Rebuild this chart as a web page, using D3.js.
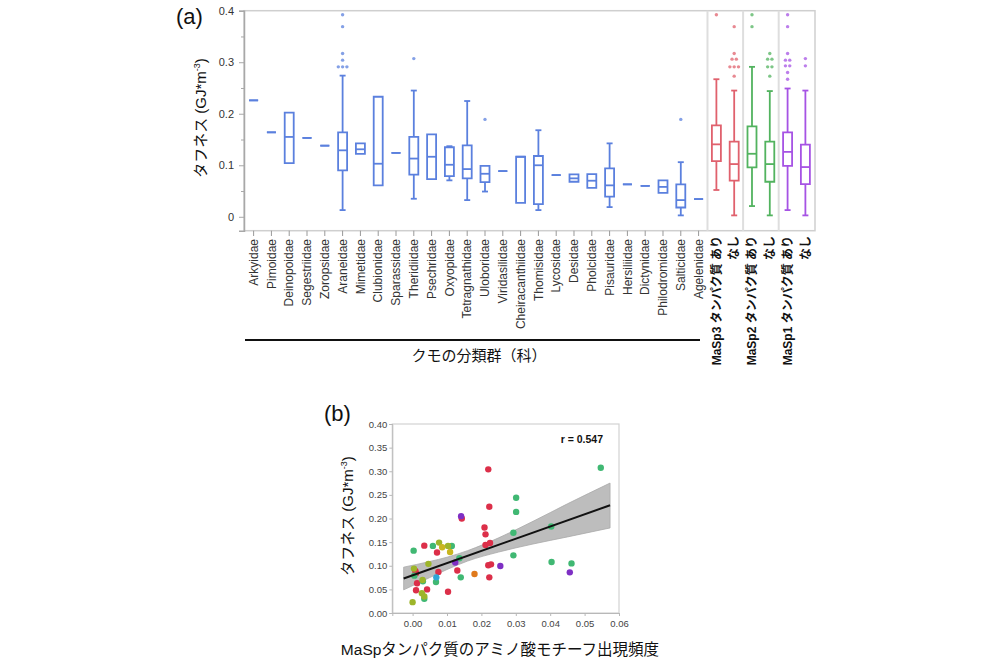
<!DOCTYPE html>
<html><head><meta charset="utf-8">
<script src="https://cdn.jsdelivr.net/npm/d3@7"></script>
<style>
body{margin:0;background:#fff;}
svg text{font-family:"Liberation Sans",Arial,"Noto Sans CJK JP",sans-serif;}
</style></head><body>
<svg id="c" width="1000" height="667"></svg>
<script>
// ---------- Panel (a): box plots ----------
const categories = ["Arkyidae","Pimoidae","Deinopoidae","Segestriidae","Zoropsidae","Araneidae","Mimetidae","Clubionidae","Sparassidae","Theridiidae","Psechridae","Oxyopidae","Tetragnathidae","Uloboridae","Viridasilidae","Cheiracanthiidae","Thomisidae","Lycosidae","Desidae","Pholcidae","Pisauridae","Hersiliidae","Dictynidae","Philodromidae","Salticidae","Agelenidae","MaSp3あり","MaSp3なし","MaSp2あり","MaSp2なし","MaSp1あり","MaSp1なし"];
const tickLabels = ["Arkyidae","Pimoidae","Deinopoidae","Segestriidae","Zoropsidae","Araneidae","Mimetidae","Clubionidae","Sparassidae","Theridiidae","Psechridae","Oxyopidae","Tetragnathidae","Uloboridae","Viridasilidae","Cheiracanthiidae","Thomisidae","Lycosidae","Desidae","Pholcidae","Pisauridae","Hersiliidae","Dictynidae","Philodromidae","Salticidae","Agelenidae","MaSp3 タンパク質 あり","なし","MaSp2 タンパク質 あり","なし","MaSp1 タンパク質 あり","なし"];
const categoryGroup = ["fam","fam","fam","fam","fam","fam","fam","fam","fam","fam","fam","fam","fam","fam","fam","fam","fam","fam","fam","fam","fam","fam","fam","fam","fam","fam","MaSp3","MaSp3","MaSp2","MaSp2","MaSp1","MaSp1"];
const whiskerLow  = [0.226,0.164,0.104,0.153,0.138,0.013,0.122,0.061,0.124,0.035,0.073,0.0707,0.0324,0.049,0.0887,0.027,0.013,0.081,0.068,0.0563,0.0188,0.063,0.060,0.0466,0.0027,0.0344,0.052,0.0027,0.0208,0.0027,0.013,0.0027];
const quartile1   = [0.226,0.164,0.104,0.153,0.138,0.090,0.122,0.061,0.124,0.082,0.073,0.079,0.0746,0.0674,0.0887,0.027,0.0247,0.081,0.068,0.0563,0.039,0.063,0.060,0.0466,0.018,0.0344,0.108,0.070,0.0959,0.068,0.099,0.0635];
const medians     = [0.226,0.164,0.155,0.153,0.138,0.129,0.131,0.103,0.124,0.113,0.1165,0.101,0.0926,0.0835,0.0887,0.1165,0.100,0.081,0.0746,0.070,0.061,0.063,0.060,0.058,0.0324,0.0344,0.1406,0.1023,0.1223,0.1023,0.126,0.0965];
const quartile3   = [0.226,0.164,0.202,0.153,0.138,0.164,0.1425,0.233,0.124,0.155,0.160,0.135,0.1386,0.099,0.0887,0.1165,0.118,0.081,0.0823,0.083,0.094,0.063,0.060,0.0707,0.063,0.0344,0.1775,0.1457,0.1755,0.1457,0.164,0.140];
const whiskerHigh = [0.226,0.164,0.202,0.153,0.138,0.274,0.1425,0.233,0.124,0.245,0.160,0.137,0.2247,0.099,0.0887,0.1165,0.168,0.081,0.0823,0.083,0.1425,0.063,0.060,0.0707,0.106,0.0344,0.267,0.245,0.291,0.244,0.249,0.245];
const outliers = [[],[],[],[],[],[0.392,0.369,0.317,0.304,0.291,0.291,0.291],[],[],[],[0.307],[],[],[],[0.189],[],[],[],[],[],[],[],[],[],[],[0.189],[],
  [0.392],[0.369,0.317,0.306,0.306,0.291,0.291,0.291,0.273],[0.392,0.369],[0.317,0.306,0.306,0.291,0.291,0.273],[0.392,0.369,0.317,0.304,0.304,0.293,0.293,0.280,0.267],[0.307,0.293]];
const yTicksA = [0,0.1,0.2,0.3,0.4];
const yMinorA = [0.05,0.15,0.25,0.35];
const groupColors = {fam:"#5b80de", MaSp3:"#e0616d", MaSp2:"#52b35f", MaSp1:"#a653e4"};

// ---------- Panel (b): scatter ----------
const redPts = [[0.0008,0.089],[0.0013,0.063],[0.0010,0.048],[0.0034,0.1425],[0.0042,0.050],[0.0071,0.128],[0.0075,0.087],[0.0103,0.045],[0.0130,0.090],[0.0143,0.200],[0.0209,0.181],[0.0212,0.1665],[0.0212,0.144],[0.0225,0.148],[0.0220,0.101],[0.0228,0.103],[0.0223,0.0755],[0.0223,0.225],[0.0220,0.304],[0.0010,0.084]];
const greenPts = [[0.0003,0.132],[0.0005,0.079],[0.0030,0.067],[0.0034,0.030],[0.0059,0.142],[0.0068,0.0656],[0.0114,0.142],[0.0136,0.116],[0.0140,0.0755],[0.0293,0.170],[0.0293,0.122],[0.0301,0.214],[0.0301,0.244],[0.0403,0.183],[0.0404,0.108],[0.0462,0.105],[0.0547,0.3075]];
const olivePts = [[0.0000,0.023],[0.0004,0.094],[0.0029,0.070],[0.0027,0.042],[0.0034,0.035],[0.0046,0.104],[0.0077,0.149],[0.0103,0.142]];
const yellowPts = [[0.0086,0.139],[0.0109,0.129]];
const cyanPts = [[0.0069,0.0755]];
const orangePts = [[0.0180,0.0825]];
const purplePts = [[0.0124,0.107],[0.0141,0.205],[0.0255,0.0995],[0.0457,0.086]];
const fitX = [-0.0026,0.0574];
const fitY = [0.073,0.228];
const bandX = [-0.0026,0.005,0.010,0.016,0.025,0.035,0.045,0.0574];
const bandUpper = [0.097,0.109,0.118,0.132,0.159,0.194,0.231,0.275];
const bandLower = [0.049,0.075,0.092,0.110,0.129,0.146,0.161,0.180];
const xTicksB = [0,0.01,0.02,0.03,0.04,0.05,0.06];
const yTicksB = [0,0.05,0.10,0.15,0.20,0.25,0.30,0.35,0.40];

const svg = d3.select("#c");
svg.append("rect").attr("width",1000).attr("height",667).attr("fill","#fff");

// ===== Panel (a) =====
const xA = d3.scalePoint().domain(categories).range([244,815]).padding(0.54);
const yA = d3.scaleLinear().domain([-0.027,0.4]).range([230.7,10.7]);
const colorOf = c => groupColors[categoryGroup[categories.indexOf(c)]];

svg.append("rect").attr("x",244).attr("y",10.7).attr("width",571).attr("height",220)
  .attr("fill","none").attr("stroke","#cfcfcf").attr("stroke-width",1.5);

// separators
[[25,26],[27,28],[29,30]].forEach(([a,b])=>{
  const sx = (xA(categories[a])+xA(categories[b]))/2;
  svg.append("line").attr("x1",sx).attr("x2",sx).attr("y1",10.7).attr("y2",230.7)
    .attr("stroke","#dedede").attr("stroke-width",2);
});

// y axis
const gyA = svg.append("g").attr("transform","translate(244,0)")
  .call(d3.axisLeft(yA).tickValues(yTicksA).tickFormat(d=>d===0?"0":d3.format(".1f")(d)).tickSize(5).tickPadding(5));
gyA.select(".domain").attr("stroke","#a8a8a8").attr("stroke-width",1.5);
gyA.selectAll(".tick line").attr("stroke","#a8a8a8");
gyA.selectAll(".tick text").attr("font-size",11).attr("fill","#333");
const gyAm = svg.append("g").attr("transform","translate(244,0)")
  .call(d3.axisLeft(yA).tickValues(yMinorA).tickFormat("").tickSize(3));
gyAm.select(".domain").remove();
gyAm.selectAll(".tick line").attr("stroke","#a8a8a8");

// x ticks (families)
categories.forEach((c,i)=>{
  if(categoryGroup[i]==="fam"){
    svg.append("line").attr("x1",xA(c)).attr("x2",xA(c)).attr("y1",230.7).attr("y2",236)
      .attr("stroke","#999").attr("stroke-width",1);
  }
});
// x labels
categories.forEach((c,i)=>{
  const fam = categoryGroup[i]==="fam";
  svg.append("text").attr("transform",`translate(${xA(c)},${fam?239:236}) rotate(-90)`)
    .attr("text-anchor","end").attr("dy","0.35em")
    .attr("font-size",12).attr("font-weight",fam?"normal":"bold")
    .attr("fill",fam?"#333":"#111").text(tickLabels[i]);
});

// boxes
const bw = 9, cw = 6;
categories.forEach((c,i)=>{
  const x = xA(c), col = colorOf(c);
  const g = svg.append("g").attr("stroke",col).attr("stroke-width",1.8).attr("fill","none");
  if(whiskerHigh[i]>quartile3[i]){
    g.append("line").attr("x1",x).attr("x2",x).attr("y1",yA(quartile3[i])).attr("y2",yA(whiskerHigh[i]));
    g.append("line").attr("x1",x-cw/2).attr("x2",x+cw/2).attr("y1",yA(whiskerHigh[i])).attr("y2",yA(whiskerHigh[i]));
  }
  if(whiskerLow[i]<quartile1[i]){
    g.append("line").attr("x1",x).attr("x2",x).attr("y1",yA(quartile1[i])).attr("y2",yA(whiskerLow[i]));
    g.append("line").attr("x1",x-cw/2).attr("x2",x+cw/2).attr("y1",yA(whiskerLow[i])).attr("y2",yA(whiskerLow[i]));
  }
  g.append("path").attr("d",`M${x-bw/2},${yA(quartile3[i])}H${x+bw/2}V${yA(quartile1[i])}H${x-bw/2}Z`);
  g.append("line").attr("x1",x-bw/2).attr("x2",x+bw/2).attr("y1",yA(medians[i])).attr("y2",yA(medians[i]));
  // outliers (coincident values spread horizontally)
  const counts = d3.rollup(outliers[i], v=>v.length, d=>d);
  counts.forEach((n,v)=>{
    for(let k=0;k<n;k++){
      svg.append("circle").attr("cx",x+(k-(n-1)/2)*4.3).attr("cy",yA(v)).attr("r",1.7)
        .attr("fill",col).attr("opacity",0.75);
    }
  });
});

svg.append("text").attr("transform","translate(206,118) rotate(-90)").attr("text-anchor","middle")
  .attr("font-size",15).attr("fill","#111")
  .call(t=>{t.append("tspan").text("タフネス (GJ*m");
            t.append("tspan").attr("font-size",9).attr("dy",-6).text("-3");
            t.append("tspan").attr("dy",6).text(")");});
svg.append("text").attr("x",176).attr("y",24).attr("font-size",22).attr("fill","#111").text("(a)");

svg.append("line").attr("x1",245).attr("x2",700).attr("y1",340).attr("y2",340).attr("stroke","#111").attr("stroke-width",2);
svg.append("text").attr("x",479).attr("y",361).attr("text-anchor","middle").attr("font-size",15).attr("fill","#111").text("クモの分類群（科）");

// ===== Panel (b) =====
const xB = d3.scaleLinear().domain([-0.0059,0.06]).range([392.3,619]);
const yB = d3.scaleLinear().domain([0,0.4]).range([613,424]);

svg.append("rect").attr("x",392.3).attr("y",424).attr("width",619-392.3).attr("height",189)
  .attr("fill","none").attr("stroke","#d2d2d2").attr("stroke-width",1.2);

const gxB = svg.append("g").attr("transform","translate(0,613)")
  .call(d3.axisBottom(xB).tickValues(xTicksB).tickFormat(d3.format(".2f")).tickSize(3).tickPadding(4));
gxB.select(".domain").attr("stroke","#b8b8b8");
gxB.selectAll(".tick line").attr("stroke","#b8b8b8");
gxB.selectAll(".tick text").attr("font-size",9.5).attr("fill","#444");
const gyB = svg.append("g").attr("transform","translate(392.3,0)")
  .call(d3.axisLeft(yB).tickValues(yTicksB).tickFormat(d3.format(".2f")).tickSize(3).tickPadding(2));
gyB.select(".domain").attr("stroke","#b8b8b8");
gyB.selectAll(".tick line").attr("stroke","#b8b8b8");
gyB.selectAll(".tick text").attr("font-size",9.5).attr("fill","#444");

// confidence band
const bandData = bandX.map((x,i)=>({x, lo:bandLower[i], hi:bandUpper[i]}));
svg.append("path").datum(bandData)
  .attr("d", d3.area().x(d=>xB(d.x)).y0(d=>yB(d.lo)).y1(d=>yB(d.hi)).curve(d3.curveMonotoneX))
  .attr("fill","#bdbdbd").attr("stroke","#a9a9a9").attr("stroke-width",0.8);

// points
const pointSets = [[redPts,"#dc2f49"],[greenPts,"#40b873"],[olivePts,"#9db52a"],[yellowPts,"#c9b61e"],[cyanPts,"#2ea6d6"],[orangePts,"#e07a1c"],[purplePts,"#7e2fc4"]];
pointSets.forEach(([pts,col])=>{
  svg.append("g").selectAll("circle").data(pts).join("circle")
    .attr("cx",d=>xB(d[0])).attr("cy",d=>yB(d[1])).attr("r",3.2).attr("fill",col);
});

// fit line
svg.append("path").datum(fitX.map((x,i)=>[x,fitY[i]]))
  .attr("d", d3.line().x(d=>xB(d[0])).y(d=>yB(d[1])))
  .attr("stroke","#111").attr("stroke-width",2).attr("fill","none");

svg.append("text").attr("x",603).attr("y",443).attr("text-anchor","end").attr("font-size",10.5)
  .attr("font-weight","bold").attr("fill","#111").text("r = 0.547");

svg.append("text").attr("transform","translate(353,516) rotate(-90)").attr("text-anchor","middle")
  .attr("font-size",15).attr("fill","#111")
  .call(t=>{t.append("tspan").text("タフネス (GJ*m");
            t.append("tspan").attr("font-size",9).attr("dy",-6).text("-3");
            t.append("tspan").attr("dy",6).text(")");});
svg.append("text").attr("x",324).attr("y",421).attr("font-size",22).attr("fill","#111").text("(b)");
svg.append("text").attr("x",500).attr("y",655).attr("text-anchor","middle").attr("font-size",15.5).attr("fill","#111")
  .text("MaSpタンパク質のアミノ酸モチーフ出現頻度");
</script></body></html>
